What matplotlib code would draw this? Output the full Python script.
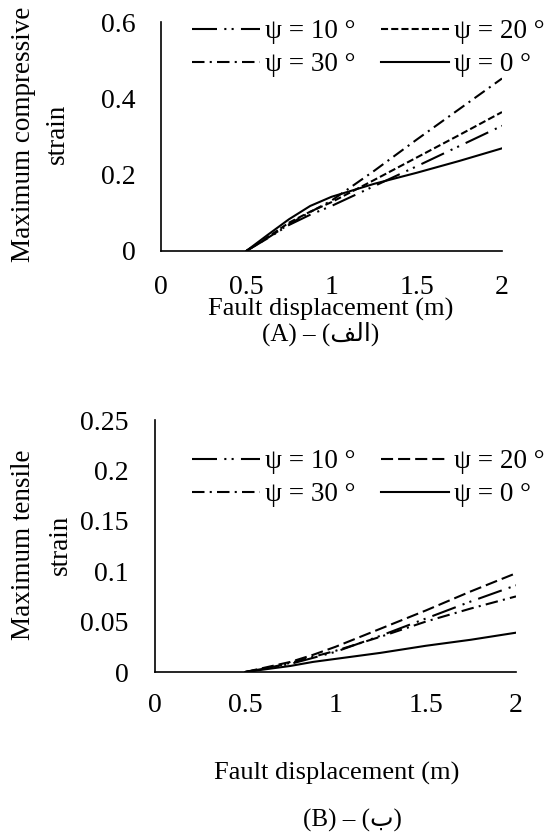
import matplotlib
matplotlib.use("Agg")
import matplotlib.pyplot as plt

plt.rcParams['font.family'] = ['Liberation Serif', 'DejaVu Sans']

# fault displacement (m)
x = [0.5, 0.625, 0.75, 0.875, 1.0, 1.25, 1.5, 1.75, 2.0]

# (A) maximum compressive strain
comp_psi10 = [0, 0.033, 0.068, 0.095, 0.118, 0.170, 0.222, 0.275, 0.328]
comp_psi20 = [0, 0.036, 0.074, 0.103, 0.128, 0.186, 0.245, 0.304, 0.364]
comp_psi30 = [0, 0.034, 0.070, 0.102, 0.132, 0.210, 0.292, 0.372, 0.452]
comp_psi0 = [0, 0.042, 0.083, 0.118, 0.142, 0.176, 0.205, 0.236, 0.269]

# (B) maximum tensile strain
tens_psi10 = [0, 0.004, 0.008, 0.014, 0.020, 0.036, 0.053, 0.070, 0.086]
tens_psi20 = [0, 0.005, 0.010, 0.017, 0.025, 0.043, 0.061, 0.080, 0.098]
tens_psi30 = [0, 0.004, 0.009, 0.015, 0.021, 0.035, 0.050, 0.063, 0.075]
tens_psi0 = [0, 0.003, 0.006, 0.010, 0.013, 0.019, 0.026, 0.032, 0.039]

labels = ["ψ = 10 °", "ψ = 20 °", "ψ = 30 °", "ψ = 0 °"]
xticks = [0, 0.5, 1, 1.5, 2]

fig = plt.figure(figsize=(5.54, 8.35), dpi=100)

lw = 1.5
st10 = (0, (12, 3.5, 1, 2.5, 1, 3.5))
st30 = (0, (6, 2.5, 1, 2.5))
st20_top = (0, (3.4, 1.5))
st20_bot = (0, (5.8, 2.4))


def style_axes(ax, ylim, yticks, ypad, xpad):
    ax.set_xlim(0, 2)
    ax.set_ylim(*ylim)
    ax.set_xticks(xticks)
    ax.set_xticklabels([f"{t:g}" for t in xticks])
    ax.set_yticks(yticks)
    ax.set_yticklabels([f"{t:g}" for t in yticks])
    ax.tick_params(length=0, labelsize=20, colors="black")
    ax.tick_params(axis="x", pad=xpad)
    ax.tick_params(axis="y", pad=ypad)
    for s in ["top", "right"]:
        ax.spines[s].set_visible(False)
    for s in ["left", "bottom"]:
        ax.spines[s].set_linewidth(1.2)
    ax.patch.set_visible(False)


def add_legend(ax, handles, top_px):
    # two columns, filled column-wise: 10, 30 | 20, 0
    ax.legend([handles[0], handles[2], handles[1], handles[3]],
              [labels[0], labels[2], labels[1], labels[3]],
              ncol=2, frameon=False, fontsize=19.5, loc="upper left",
              bbox_to_anchor=(192/554, 1-top_px/835),
              bbox_transform=fig.transFigure,
              handlelength=2.5, handletextpad=0.2, columnspacing=0.95,
              labelspacing=0.3, borderaxespad=0, borderpad=0)


# top panel
ax1 = fig.add_axes([161/554, 1-251/835, 341/554, 229/835])
l10, = ax1.plot(x, comp_psi10, color="black", lw=lw, linestyle=st10)
l20, = ax1.plot(x, comp_psi20, color="black", lw=lw, linestyle=st20_top)
l30, = ax1.plot(x, comp_psi30, color="black", lw=lw, linestyle=st30)
l0, = ax1.plot(x, comp_psi0, color="black", lw=lw, linestyle="-")
style_axes(ax1, (0, 0.6), [0, 0.2, 0.4, 0.6], 18, 17)
add_legend(ax1, [l10, l20, l30, l0], 19)
fig.text(24/554, 1-134/835, "Maximum compressive", rotation=90,
         fontsize=19.5, ha="center", va="center")
fig.text(57/554, 1-134/835, "strain", rotation=90,
         fontsize=19.5, ha="center", va="center")
fig.text(331/554, 1-309/835, "Fault displacement (m)", fontsize=19,
         ha="center", va="center")
fig.text(321/554, 1-334/835, "(A) – (\uFED2\uFEDF\uFE8D)", fontsize=18,
         ha="center", va="center")

# bottom panel
ax2 = fig.add_axes([155/554, 1-672/835, 361/554, 252/835])
m10, = ax2.plot(x, tens_psi10, color="black", lw=lw, linestyle=st10)
m20, = ax2.plot(x, tens_psi20, color="black", lw=lw, linestyle=st20_bot)
m30, = ax2.plot(x, tens_psi30, color="black", lw=lw, linestyle=st30)
m0, = ax2.plot(x, tens_psi0, color="black", lw=lw, linestyle="-")
style_axes(ax2, (0, 0.25), [0, 0.05, 0.1, 0.15, 0.2, 0.25], 19, 15)
add_legend(ax2, [m10, m20, m30, m0], 449)
fig.text(24/554, 1-545/835, "Maximum tensile", rotation=90,
         fontsize=19.5, ha="center", va="center")
fig.text(60/554, 1-545/835, "strain", rotation=90,
         fontsize=19.5, ha="center", va="center")
fig.text(337/554, 1-773/835, "Fault displacement (m)", fontsize=19,
         ha="center", va="center")
fig.text(352/554, 1-820/835, "(B) – (\uFE8F)", fontsize=18,
         ha="center", va="center")

fig.savefig("out.png", dpi=100)
